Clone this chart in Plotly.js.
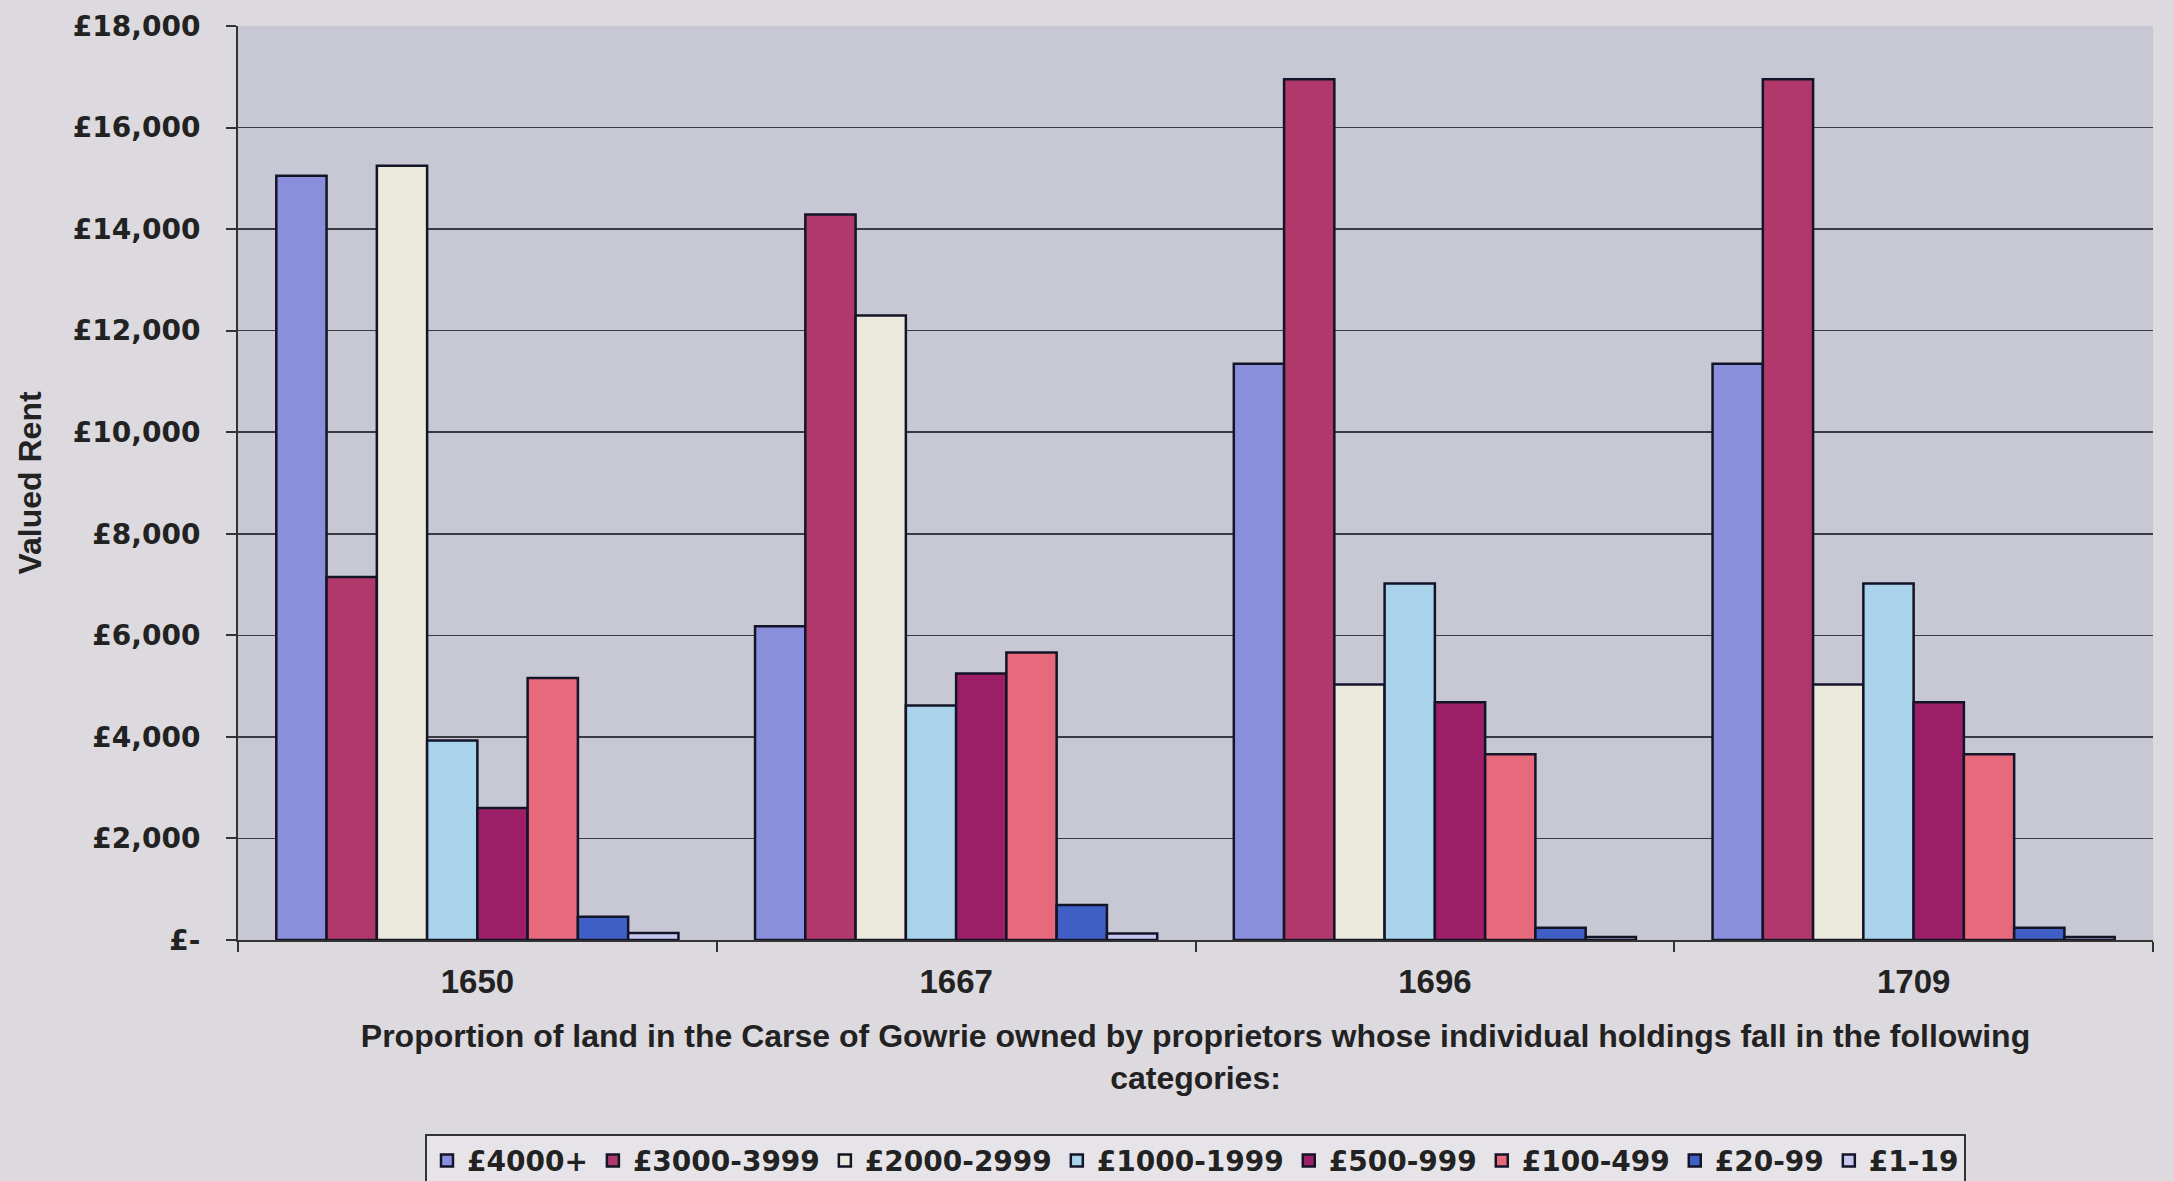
<!DOCTYPE html>
<html>
<head>
<meta charset="utf-8">
<script src="https://cdn.plot.ly/plotly-3.0.1.min.js"></script>
<style>html,body{margin:0;padding:0;background:#dcd9df;}#chart{width:2174px;height:1181px;}</style>
</head>
<body>
<div id="chart"></div>
<script>
const years = ['1650', '1667', '1696', '1709'];
const seriesNames = ['£4000+', '£3000-3999', '£2000-2999', '£1000-1999', '£500-999', '£100-499', '£20-99', '£1-19'];
const s4000 = [15050, 6180, 11350, 11350];
const s3000 = [7150, 14290, 16950, 16950];
const s2000 = [15250, 12300, 5030, 5030];
const s1000 = [3930, 4620, 7020, 7020];
const s500 = [2600, 5250, 4680, 4680];
const s100 = [5160, 5660, 3660, 3660];
const s20 = [460, 690, 240, 240];
const s1 = [140, 130, 60, 60];
const yTickVals = [0, 2000, 4000, 6000, 8000, 10000, 12000, 14000, 16000, 18000];
const yTickText = ['£-', '£2,000', '£4,000', '£6,000', '£8,000', '£10,000', '£12,000', '£14,000', '£16,000', '£18,000'];

const colors = ['#8a8fdc', '#b0386a', '#eceadc', '#a9d3ea', '#9c1f68', '#e66a7c', '#3f5fc6', '#c6c8f0'];
const allSeries = [s4000, s3000, s2000, s1000, s500, s100, s20, s1];

const heavy = 'Liberation Sans, Arial, sans-serif';
const traces = allSeries.map((vals, i) => ({
  type: 'bar',
  name: seriesNames[i],
  x: years,
  y: vals,
  marker: {color: colors[i], line: {color: '#141428', width: 2.5}},
  hoverinfo: 'x+y+name'
}));

const layout = {
  width: 2174,
  height: 1181,
  paper_bgcolor: '#dcd9df',
  plot_bgcolor: '#c8c8d5',
  margin: {l: 238, r: 21, t: 26, b: 241, autoexpand: false},
  barmode: 'group',
  bargap: 0.16,
  bargroupgap: 0,
  showlegend: true,
  legend: {
    orientation: 'h',
    x: 0.5, xanchor: 'center',
    y: -0.212, yanchor: 'top',
    bgcolor: '#e6e4e8',
    bordercolor: '#333333',
    borderwidth: 2,
    font: {family: 'DejaVu Sans, Verdana, sans-serif', size: 28, color: '#222222', weight: 'bold'},
    traceorder: 'normal',
    itemwidth: 30
  },
  xaxis: {
    type: 'category',
    automargin: false,
    tickson: 'boundaries',
    ticks: 'outside',
    ticklen: 10,
    tickwidth: 2,
    tickcolor: '#333333',
    ticklabelstandoff: 11,
    showline: true,
    linecolor: '#333333',
    linewidth: 2,
    tickfont: {family: heavy, size: 33, color: '#222222', weight: 'bold'},
    title: {
      text: 'Proportion of land in the Carse of Gowrie owned by proprietors whose individual holdings fall in the following<br>categories:',
      font: {family: heavy, size: 32, color: '#222222', weight: 'bold'},
      standoff: 26
    }
  },
  yaxis: {
    range: [0, 18000],
    automargin: false,
    tickvals: yTickVals,
    ticktext: yTickText,
    ticks: 'outside',
    ticklen: 10,
    tickwidth: 2,
    tickcolor: '#333333',
    ticklabelstandoff: 20,
    showline: true,
    linecolor: '#333333',
    linewidth: 2,
    showgrid: true,
    gridcolor: '#3a3a44',
    gridwidth: 1.5,
    zeroline: false,
    tickfont: {family: 'DejaVu Sans, Verdana, sans-serif', size: 28, color: '#222222', weight: 'bold'},
    title: {
      text: 'Valued Rent',
      font: {family: heavy, size: 32, color: '#222222', weight: 'bold'},
      standoff: 22
    }
  }
};

Plotly.newPlot('chart', traces, layout, {displayModeBar: false, staticPlot: true});
</script>
</body>
</html>
